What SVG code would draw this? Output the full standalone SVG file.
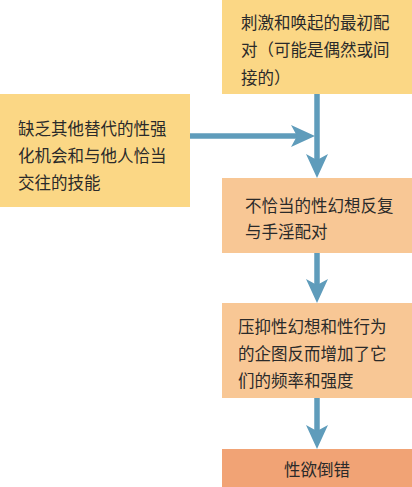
<svg xmlns="http://www.w3.org/2000/svg" width="412" height="487" viewBox="0 0 412 487">
<style>
.box{stroke:none}
.y{fill:#FBD785}
.p{fill:#F8C795}
.o{fill:#F1A375}
.t{font-family:"Noto Sans CJK SC","Noto Sans CJK JP",sans-serif;font-size:16.5px;fill:#2a2a2a}
.c{stroke:#5F9CBB;stroke-width:5.5;fill:none}
</style>
<defs>
<marker id="ah" viewBox="0 0 24 22" refX="6" refY="11" markerWidth="24" markerHeight="22" markerUnits="userSpaceOnUse" orient="auto">
<path d="M0,0 L24,11 L0,22 L6,11 Z" fill="#5F9CBB"/>
</marker>
</defs>
<rect width="412" height="487" fill="#ffffff"/>
<g id="connectors">
<path class="c" d="M317,94 V160" marker-end="url(#ah)"/>
<path class="c" d="M190,136 H297" marker-end="url(#ah)"/>
<path class="c" d="M317,253 V285" marker-end="url(#ah)"/>
<path class="c" d="M317,398 V431" marker-end="url(#ah)"/>
</g>
<g id="n1">
<rect class="box y" x="222" y="0" width="190" height="94"/>
<text class="t" x="241" y="29">刺激和唤起的最初配</text>
<text class="t" x="241" y="56">对（可能是偶然或间</text>
<text class="t" x="241" y="84">接的）</text>
</g>
<g id="n2">
<rect class="box y" x="0" y="94" width="190" height="113"/>
<text class="t" x="18" y="135">缺乏其他替代的性强</text>
<text class="t" x="18" y="162">化机会和与他人恰当</text>
<text class="t" x="18" y="189">交往的技能</text>
</g>
<g id="n3">
<rect class="box p" x="222" y="178" width="190" height="75"/>
<text class="t" x="245" y="212">不恰当的性幻想反复</text>
<text class="t" x="245" y="238">与手淫配对</text>
</g>
<g id="n4">
<rect class="box p" x="222" y="303" width="190" height="95"/>
<text class="t" x="238" y="333">压抑性幻想和性行为</text>
<text class="t" x="238" y="360">的企图反而增加了它</text>
<text class="t" x="238" y="387">们的频率和强度</text>
</g>
<g id="n5">
<rect class="box o" x="222" y="449" width="190" height="38"/>
<text class="t" x="317" y="476" text-anchor="middle">性欲倒错</text>
</g>
</svg>
